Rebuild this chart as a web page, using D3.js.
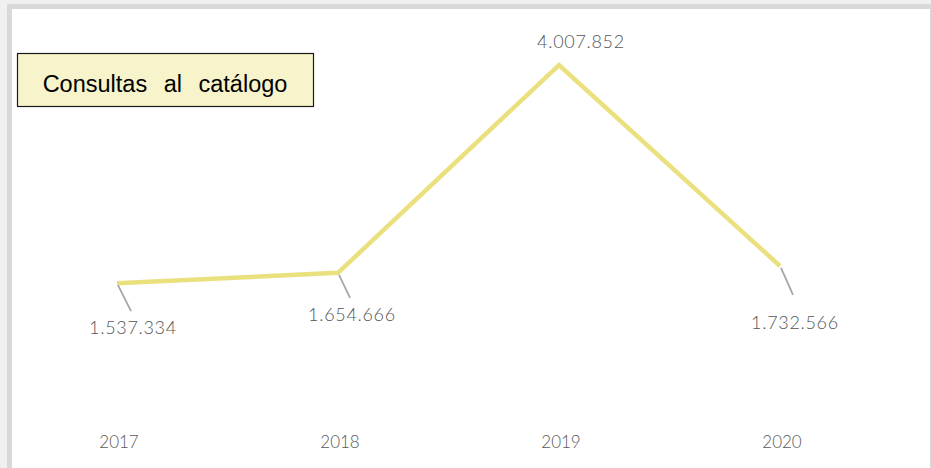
<!DOCTYPE html>
<html><head><meta charset="utf-8">
<script src="https://cdn.jsdelivr.net/npm/d3@7"></script>
<style>
html,body{margin:0;padding:0;background:#f0f0f0;}
svg{display:block;}
</style></head>
<body><svg id="c" width="931" height="468"></svg>
<script>
const years = ["2017","2018","2019","2020"];
const values = [1537334, 1654666, 4007852, 1732566];
const valueLabels = ["1.537.334","1.654.666","4.007.852","1.732.566"];
const title = "Consultas al catálogo";

const svg = d3.select("#c");
// frame
svg.append("rect").attr("x",7).attr("y",4).attr("width",924).attr("height",464).attr("fill","#d9d9d9");
svg.append("rect").attr("x",12).attr("y",9).attr("width",918).attr("height",459).attr("fill","#ffffff");

const x = d3.scalePoint().domain(years).range([117,780]);
const y = d3.scaleLinear().domain([0, d3.max(values)]).range([419,65]);

const data = years.map((yr,i)=>({yr, v:values[i], lab:valueLabels[i]}));

svg.append("path").datum(data)
  .attr("d", d3.line().x(d=>x(d.yr)).y(d=>y(d.v)))
  .attr("fill","none").attr("stroke","#ebe07e").attr("stroke-width",4.5)
  .attr("stroke-linejoin","miter");

// leader lines + labels
const off = {"2017":{lx:14,ly:28,tx:16,ty:51,lead:true},
             "2018":{lx:12,ly:25,tx:14,ty:48,lead:true},
             "2019":{lx:0,ly:0,tx:22,ty:-17,lead:false},
             "2020":{lx:13,ly:29,tx:15,ty:63,lead:true}};
data.forEach(d=>{
  const o = off[d.yr];
  const px = x(d.yr), py = y(d.v);
  if(o.lead){
    svg.append("line").attr("x1",px+1).attr("y1",py+2).attr("x2",px+o.lx).attr("y2",py+o.ly)
      .attr("stroke","#a6a6a6").attr("stroke-width",1.8);
  }
  svg.append("text").attr("x",px+o.tx).attr("y",py+o.ty)
    .attr("text-anchor","middle").attr("font-family","Lato, 'DejaVu Sans', sans-serif")
    .attr("font-weight",300).attr("letter-spacing",0.7)
    .attr("font-size",18).attr("fill","#555555").text(d.lab);
});

// x axis labels
svg.append("g").selectAll("text").data(years).join("text")
  .attr("x",d=>x(d)+2).attr("y",448)
  .attr("text-anchor","middle").attr("font-family","Lato, 'DejaVu Sans', sans-serif")
  .attr("font-weight",300)
  .attr("font-size",17).attr("fill","#595959").text(d=>d);

// title box
svg.append("rect").attr("x",17.5).attr("y",53.5).attr("width",296).attr("height",53)
  .attr("fill","#f7f3cb").attr("stroke","#1a1a1a").attr("stroke-width",1.2);
svg.append("text").attr("x",165).attr("y",92).attr("text-anchor","middle")
  .attr("font-family","'Liberation Sans', Arial, sans-serif").attr("font-size",23.5)
  .attr("word-spacing",10).attr("fill","#000").text(title);
</script></body></html>
